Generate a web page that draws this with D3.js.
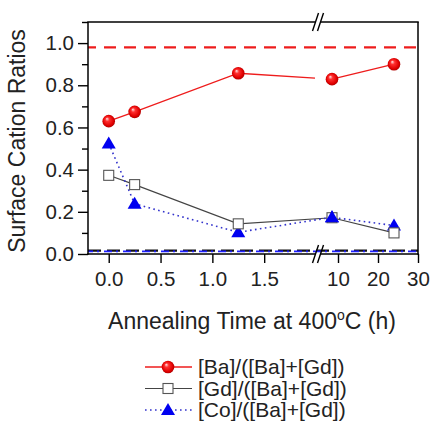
<!DOCTYPE html>
<html>
<head>
<meta charset="utf-8">
<script src="https://cdn.jsdelivr.net/npm/d3@7/dist/d3.min.js"></script>
<style>
  html, body { margin: 0; padding: 0; background: #fff; }
  svg { display: block; font-family: "Liberation Sans", Arial, Helvetica, sans-serif; }
</style>
</head>
<body>
<svg id="chart" width="431" height="427"></svg>
<script>
// Annealing times (h) and surface cation ratios
const times = [0, 0.25, 1.25, 8.5, 24];
const baRatio = [0.63, 0.674, 0.857, 0.829, 0.9];
const gdRatio = [0.373, 0.329, 0.143, 0.172, 0.10];
const coRatio = [0.524, 0.238, 0.103, 0.174, 0.135];

// Reference levels
const baBulk = 0.98;
const lowLevel = 0.016;

// Axis ticks
const yTicks = [0, 0.2, 0.4, 0.6, 0.8, 1.0];
const yMinorTicks = [0.1, 0.3, 0.5, 0.7, 0.9, 1.1];
const xTicksLeft = [0, 0.5, 1.0, 1.5];
const xTicksRight = [10, 20, 30];
const seriesNames = ["[Ba]/([Ba]+[Gd])", "[Gd]/([Ba]+[Gd])", "[Co]/([Ba]+[Gd])"];

const svg = d3.select("#chart");
const L = 88, R = 418, T = 22, B = 254, BRK = 318;

// Broken x axis: two linear segments
const xLeft = d3.scaleLinear().domain([-0.2, 2.0]).range([L, 316]);
const xRight = d3.scaleLinear().domain([5, 30]).range([BRK, R]);
const xPos = v => v <= 2 ? xLeft(v) : xRight(v);
const y = d3.scaleLinear().domain([0, 1.1]).range([B, T]);

const defs = svg.append("defs");
const grad = defs.append("radialGradient").attr("id", "sphere")
  .attr("cx", "50%").attr("cy", "50%").attr("r", "55%")
  .attr("fx", "35%").attr("fy", "30%");
grad.append("stop").attr("offset", "0%").attr("stop-color", "#ffe8e8");
grad.append("stop").attr("offset", "30%").attr("stop-color", "#ff3030");
grad.append("stop").attr("offset", "75%").attr("stop-color", "#e00000");
grad.append("stop").attr("offset", "100%").attr("stop-color", "#a00000");

// Horizontal reference lines
svg.append("line")
  .attr("x1", L).attr("x2", R).attr("y1", y(baBulk)).attr("y2", y(baBulk))
  .attr("stroke", "#ee1c1c").attr("stroke-width", 2.2).attr("stroke-dasharray", "12,8")
  .attr("stroke-dashoffset", 4);
svg.append("line")
  .attr("x1", L).attr("x2", R).attr("y1", y(lowLevel)).attr("y2", y(lowLevel))
  .attr("stroke", "#111").attr("stroke-width", 2.2).attr("stroke-dasharray", "13,6");
svg.append("line")
  .attr("x1", L).attr("x2", R).attr("y1", y(lowLevel) + 0.8).attr("y2", y(lowLevel) + 0.8)
  .attr("stroke", "#1f1fff").attr("stroke-width", 1.8).attr("stroke-dasharray", "8,4,2,5")
  .attr("stroke-dashoffset", 3);

const line = d3.line().x(d => xPos(d[0])).y(d => y(d[1]));

// [Gd] series line
svg.append("path")
  .attr("d", line(times.map((t, i) => [t, gdRatio[i]])))
  .attr("fill", "none").attr("stroke", "#444").attr("stroke-width", 1.1);

// [Co] series line (dotted)
svg.append("path")
  .attr("d", line(times.map((t, i) => [t, coRatio[i]])))
  .attr("fill", "none").attr("stroke", "#3333cc").attr("stroke-width", 1.6)
  .attr("stroke-dasharray", "1.6,3.4");

// [Ba] series line, interrupted at the axis break
const baPts = times.map((t, i) => [t, baRatio[i]]);
const iBreak = times.findIndex(t => t > 2);
const p0 = baPts[iBreak - 1], p1 = baPts[iBreak];
const xa = xPos(p0[0]), xb = xPos(p1[0]);
const fr = (315 - xa) / (xb - xa);
const yAtBreak = y(p0[1]) + fr * (y(p1[1]) - y(p0[1]));
const leftPath = d3.line()(baPts.slice(0, iBreak).map(d => [xPos(d[0]), y(d[1])]).concat([[315, yAtBreak]]));
const rightPath = line(baPts.slice(iBreak));
svg.append("path").attr("d", leftPath).attr("fill", "none").attr("stroke", "#ee1c1c").attr("stroke-width", 1.3);
svg.append("path").attr("d", rightPath).attr("fill", "none").attr("stroke", "#ee1c1c").attr("stroke-width", 1.3);

// Markers
const tri = d3.symbol().type(d3.symbolTriangle).size(85);
svg.append("g").selectAll("path").data(times.map((t, i) => [t, coRatio[i]])).join("path")
  .attr("d", tri).attr("transform", d => `translate(${xPos(d[0])},${y(d[1]) + 1})`)
  .attr("fill", "#0000f0");
svg.append("g").selectAll("rect").data(times.map((t, i) => [t, gdRatio[i]])).join("rect")
  .attr("x", d => xPos(d[0]) - 5).attr("y", d => y(d[1]) - 5)
  .attr("width", 10).attr("height", 10)
  .attr("fill", "#fff").attr("stroke", "#555").attr("stroke-width", 1.1);
// [Co] marker drawn above the square where they overlap
svg.append("g").selectAll("path").data(times.map((t, i) => [t, coRatio[i]]).slice(3, 4)).join("path")
  .attr("d", tri).attr("transform", d => `translate(${xPos(d[0])},${y(d[1]) + 1})`)
  .attr("fill", "#0000f0");
svg.append("g").selectAll("circle").data(baPts).join("circle")
  .attr("cx", d => xPos(d[0])).attr("cy", d => y(d[1])).attr("r", 6.3)
  .attr("fill", "url(#sphere)");

// Axes
const fmt1 = d3.format(".1f");
svg.append("g").attr("transform", `translate(${L},0)`)
  .call(d3.axisLeft(y).tickValues(yTicks).tickFormat(fmt1).tickSize(10).tickPadding(4));
svg.append("g").attr("transform", `translate(${L},0)`)
  .call(d3.axisLeft(y).tickValues(yMinorTicks).tickFormat("").tickSize(6));

svg.append("g").attr("transform", `translate(0,${B})`)
  .call(d3.axisBottom(xLeft).tickValues(xTicksLeft).tickFormat(fmt1).tickSize(9).tickPadding(8));
svg.append("g").attr("transform", `translate(0,${B})`)
  .call(d3.axisBottom(xRight).tickValues(xTicksRight).tickFormat(d3.format("d")).tickSize(9).tickPadding(8));

svg.selectAll(".domain").remove();
svg.selectAll(".tick line").attr("stroke", "#000").attr("stroke-width", 1.4);
svg.selectAll(".tick text").attr("font-size", 20.5).attr("fill", "#222")
  .attr("font-family", "'Liberation Sans', Arial, sans-serif");

// Frame with gaps at the axis break
const frame = svg.append("g").attr("stroke", "#000").attr("stroke-width", 1.5).attr("fill", "none");
frame.append("line").attr("x1", L).attr("x2", L).attr("y1", T).attr("y2", B + 0.75);
frame.append("line").attr("x1", R).attr("x2", R).attr("y1", T).attr("y2", B + 0.75);
[T, B].forEach(yy => {
  frame.append("line").attr("x1", L - 0.75).attr("x2", BRK - 2.5).attr("y1", yy).attr("y2", yy);
  frame.append("line").attr("x1", BRK + 2.5).attr("x2", R + 0.75).attr("y1", yy).attr("y2", yy);
  [-2.5, 2.5].forEach(off => {
    frame.append("line")
      .attr("x1", BRK + off - 3).attr("y1", yy + 9)
      .attr("x2", BRK + off + 3).attr("y2", yy - 9)
      .attr("stroke-width", 1.4);
  });
});

// Axis titles
svg.append("text")
  .attr("transform", `translate(25,${(T + B) / 2 + 3}) rotate(-90)`)
  .attr("text-anchor", "middle").attr("font-size", 23).attr("fill", "#222")
  .text("Surface Cation Ratios");

const xt = svg.append("text")
  .attr("x", 252).attr("y", 329).attr("text-anchor", "middle")
  .attr("font-size", 23).attr("fill", "#222");
xt.append("tspan").text("Annealing Time at 400");
xt.append("tspan").attr("font-size", 14).attr("dy", -9).text("o");
xt.append("tspan").attr("dy", 9).text("C (h)");

// Legend
const legY = [367, 388.5, 410];
const lg = svg.append("g");
// Ba
lg.append("line").attr("x1", 145).attr("x2", 192).attr("y1", legY[0]).attr("y2", legY[0])
  .attr("stroke", "#ee1c1c").attr("stroke-width", 1.3);
lg.append("circle").attr("cx", 168).attr("cy", legY[0]).attr("r", 6.3).attr("fill", "url(#sphere)");
// Gd
lg.append("line").attr("x1", 145).attr("x2", 192).attr("y1", legY[1]).attr("y2", legY[1])
  .attr("stroke", "#444").attr("stroke-width", 1.1);
lg.append("rect").attr("x", 163).attr("y", legY[1] - 5).attr("width", 10).attr("height", 10)
  .attr("fill", "#fff").attr("stroke", "#555").attr("stroke-width", 1.1);
// Co
lg.append("line").attr("x1", 145).attr("x2", 192).attr("y1", legY[2]).attr("y2", legY[2])
  .attr("stroke", "#3333cc").attr("stroke-width", 1.6).attr("stroke-dasharray", "1.6,3.4");
lg.append("path").attr("d", tri).attr("transform", `translate(168,${legY[2] + 1})`).attr("fill", "#0000f0");

lg.selectAll("text.leg").data(seriesNames).join("text").attr("class", "leg")
  .attr("x", 198).attr("y", (d, i) => legY[i]).attr("dy", "0.35em")
  .attr("font-size", 21).attr("fill", "#222").text(d => d);
</script>
</body>
</html>
